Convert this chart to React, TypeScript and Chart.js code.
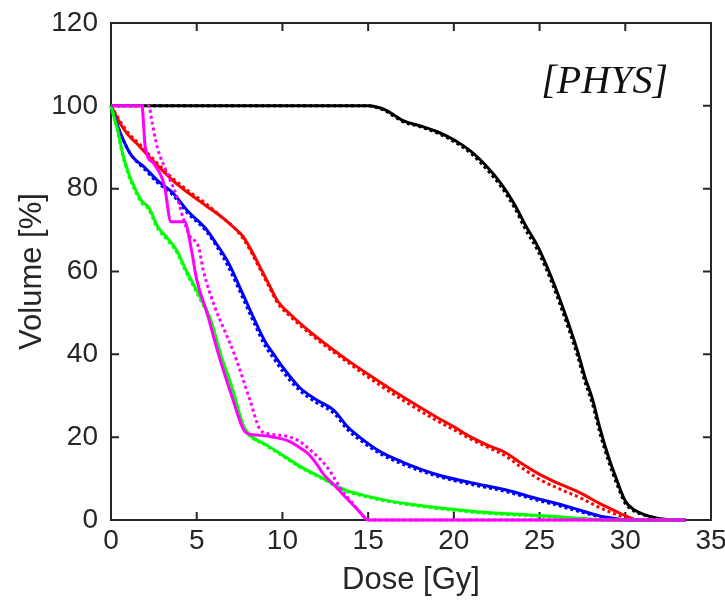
import React, { useEffect, useRef } from "react";
import { Chart, registerables } from "chart.js";

Chart.register(...registerables);

const xTicks = [0, 5, 10, 15, 20, 25, 30, 35];
const yTicks = [0, 20, 40, 60, 80, 100, 120];

const blackDose = [0, 15, 15.5, 16, 16.5, 17, 18, 19, 20, 21, 22, 22.7, 23.5, 24.2, 24.9, 25.7, 26.6, 27.2, 27.65, 28.1, 28.5, 29, 29.5, 30, 30.5, 31, 31.5, 32, 33.5];
const blackSolid = [100, 100, 99.7, 99, 97.8, 96.5, 95.2, 93.8, 91.8, 89, 85, 81.5, 76.5, 71, 66, 58.5, 48.5, 41, 34.5, 29, 22.5, 15.5, 9.7, 4.6, 2.5, 1.5, 0.8, 0.3, 0];
const blackDotted = [100, 100, 99.6, 98.8, 97.5, 96.2, 95, 93.5, 91.4, 88.5, 84.3, 80.8, 75.7, 70, 65, 57.5, 47.3, 39.8, 33.3, 27.8, 21.3, 14.5, 8.8, 4, 2.2, 1.3, 0.7, 0.2, 0];

const redDose = [0, 0.5, 1, 1.6, 2.5, 3.6, 4.5, 5.5, 6.5, 7.2, 7.7, 8.2, 8.7, 9.2, 9.7, 10.5, 11.6, 13, 14, 15, 17, 19, 20, 21, 22, 23, 24, 25, 26, 27.4, 28.5, 29.5, 30.2, 30.7, 33.5];
const redSolid = [100, 96, 93, 90.5, 86.5, 82, 79, 76, 73, 70.5, 68.5, 65, 61, 57, 53, 49.5, 45.5, 41, 38, 35.2, 29.8, 24.8, 22.5, 20, 18, 16.3, 13.5, 11, 9, 6.5, 4, 2, 0.7, 0, 0];
const redDotted = [100, 96.5, 93.5, 91, 87, 82.5, 79.5, 76.5, 73, 70.5, 68, 64.5, 60.5, 56.5, 52.5, 49, 45, 40.5, 37.5, 34.5, 29, 24, 21.8, 19.5, 17.5, 15.5, 12.5, 9.8, 7.8, 5.3, 3, 1.3, 0.3, 0, 0];

const blueDose = [0, 0.4, 0.8, 1.2, 2, 2.7, 3.6, 4.5, 5.5, 6.1, 6.8, 7.7, 8.3, 9, 9.5, 10, 11, 12, 13, 13.8, 14.5, 15.7, 17, 19, 21, 23, 25, 26, 27, 28.5, 29.5, 30, 33.5];
const blueSolid = [100, 95, 91, 88, 85, 82, 79, 74.5, 70.5, 67, 62.5, 54.5, 49, 43, 40, 37, 32, 29, 26.5, 22.5, 20, 16.5, 14, 11, 9, 7.3, 5, 4, 2.8, 1, 0.3, 0, 0];
const blueDotted = [100, 95, 91, 88, 84.5, 81.5, 78.5, 74, 70, 66.5, 61.5, 53.5, 48, 42, 39, 36, 31.3, 28.3, 25.8, 21.8, 19.4, 16, 13.5, 10.6, 8.6, 6.9, 4.6, 3.6, 2.4, 0.8, 0.2, 0, 0];

const greenDose = [0, 0.2, 0.4, 0.65, 1, 1.4, 1.8, 2.2, 2.7, 3.3, 3.85, 4.3, 4.8, 5.3, 5.8, 6.4, 7.1, 7.7, 8.1, 9, 10, 11, 12.4, 13.5, 14.7, 16, 17.5, 19.2, 22, 25, 27, 28, 29, 33.5];
const greenSolid = [100, 97, 94, 89, 84, 80, 77, 75.5, 71, 68, 65, 61, 57, 53, 48.5, 40, 31.5, 23, 20.5, 18.3, 15.7, 13, 10, 7.5, 6, 4.8, 3.8, 2.9, 1.8, 1.1, 0.5, 0.2, 0, 0];
const greenDotted = [100, 97, 93.5, 88.5, 83.5, 79.5, 76.5, 75, 70.5, 67.5, 64.5, 60.5, 56.5, 52.5, 48, 39.5, 31, 22.5, 20.3, 18.1, 15.5, 12.8, 9.8, 7.3, 5.8, 4.6, 3.6, 2.7, 1.6, 0.9, 0.4, 0.1, 0, 0];

const magentaSolidDose = [0, 1.8, 2.0, 2.5, 3.1, 3.5, 4.3, 4.7, 5, 5.6, 6.2, 7, 7.9, 8.5, 9.5, 10.4, 11, 11.5, 12, 12.4, 13, 13.8, 14.5, 15, 33.5];
const magentaSolid = [100, 100, 90, 86, 81, 72, 72, 65, 58, 50, 41, 30.5, 21, 20.5, 20, 19, 17.5, 16, 13.5, 11, 8.5, 5, 2, 0, 0];
const magentaDottedDose = [0, 2.2, 2.4, 2.7, 3.25, 3.85, 4.2, 4.6, 5.1, 5.4, 6.05, 6.6, 7.2, 8.1, 8.7, 9.2, 10.3, 11, 11.6, 12.6, 13.5, 14.1, 14.7, 15.1, 33.5];
const magentaDotted = [100, 100, 96, 90, 84, 78, 73, 68.5, 66, 60, 51.5, 46, 40, 29, 21.8, 20.8, 20.2, 19, 17, 12.8, 7, 4, 1, 0, 0];

const toPoints = (xs: number[], ys: number[]) => xs.map((x, i) => ({ x, y: ys[i] }));

const AXIS = "#262626";
const SANS = '"Liberation Sans", Arial, Helvetica, sans-serif';

function series(xs: number[], ys: number[], color: string, dotted: boolean) {
  return {
    data: toPoints(xs, ys),
    borderColor: color,
    backgroundColor: color,
    borderWidth: 3,
    borderDash: dotted ? [3, 3] : [],
    borderCapStyle: "butt" as const,
    pointRadius: 0,
    cubicInterpolationMode: "monotone" as const,
    fill: false,
    clip: false as const,
  };
}

const boxPlugin = {
  id: "matlabBox",
  beforeDatasetsDraw(chart: any) {
    const { ctx, chartArea: a, scales } = chart;
    ctx.save();
    ctx.strokeStyle = AXIS;
    ctx.lineWidth = 2;
    ctx.strokeRect(a.left, a.top, a.right - a.left, a.bottom - a.top);
    const L = 8;
    ctx.beginPath();
    for (const v of xTicks) {
      const px = scales.x.getPixelForValue(v);
      ctx.moveTo(px, a.bottom);
      ctx.lineTo(px, a.bottom - L);
      ctx.moveTo(px, a.top);
      ctx.lineTo(px, a.top + L);
    }
    for (const v of yTicks) {
      const py = scales.y.getPixelForValue(v);
      ctx.moveTo(a.left, py);
      ctx.lineTo(a.left + L, py);
      ctx.moveTo(a.right, py);
      ctx.lineTo(a.right - L, py);
    }
    ctx.stroke();
    ctx.restore();
  },
  afterDatasetsDraw(chart: any) {
    const { ctx, chartArea: a } = chart;
    ctx.save();
    ctx.fillStyle = "#111";
    ctx.font = 'italic 40px "Liberation Serif", "Times New Roman", serif';
    ctx.textAlign = "right";
    ctx.textBaseline = "alphabetic";
    ctx.fillText("[PHYS]", a.right - 43, a.top + 70);
    ctx.restore();
  },
};

export default function App() {
  const ref = useRef<HTMLCanvasElement>(null);
  useEffect(() => {
    if (!ref.current) return;
    const chart = new Chart(ref.current, {
      type: "line",
      data: {
        datasets: [
          series(magentaSolidDose, magentaSolid, "#ff00ff", false),
          series(magentaDottedDose, magentaDotted, "#ff00ff", true),
          series(greenDose, greenSolid, "#00ff00", false),
          series(greenDose, greenDotted, "#00ff00", true),
          series(blueDose, blueSolid, "#0000ff", false),
          series(blueDose, blueDotted, "#0000ff", true),
          series(redDose, redSolid, "#ff0000", false),
          series(redDose, redDotted, "#ff0000", true),
          series(blackDose, blackSolid, "#000000", false),
          series(blackDose, blackDotted, "#000000", true),
        ] as any,
      },
      options: {
        animation: false,
        responsive: true,
        maintainAspectRatio: false,
        layout: { padding: { top: 23, right: 14, left: 0, bottom: 0 } },
        plugins: { legend: { display: false }, tooltip: { enabled: false } },
        scales: {
          x: {
            type: "linear",
            min: 0,
            max: 35,
            afterBuildTicks: (s: any) => { s.ticks = xTicks.map((v) => ({ value: v })); },
            afterFit: (s: any) => { s.height = 89; s.paddingLeft = 0; s.paddingRight = 0; },
            grid: { display: false, drawTicks: false },
            border: { display: false },
            ticks: { color: AXIS, font: { family: SANS, size: 28 }, padding: 4, maxRotation: 0 },
            title: { display: true, text: "Dose [Gy]", color: AXIS, font: { family: SANS, size: 31 }, padding: { top: 0, bottom: 10 } },
          },
          y: {
            type: "linear",
            min: 0,
            max: 120,
            afterBuildTicks: (s: any) => { s.ticks = yTicks.map((v) => ({ value: v })); },
            afterFit: (s: any) => { s.width = 111; s.paddingTop = 0; s.paddingBottom = 0; },
            grid: { display: false, drawTicks: false },
            border: { display: false },
            ticks: { color: AXIS, font: { family: SANS, size: 28 }, padding: 13 },
            title: { display: true, text: "Volume [%]", color: AXIS, font: { family: SANS, size: 31 }, padding: { top: 14, bottom: 0 } },
          },
        },
      },
      plugins: [boxPlugin],
    });
    return () => chart.destroy();
  }, []);
  return (
    <div style={{ position: "fixed", left: 0, top: 0, width: 725, height: 609, background: "#fff" }}>
      <canvas ref={ref} />
    </div>
  );
}
